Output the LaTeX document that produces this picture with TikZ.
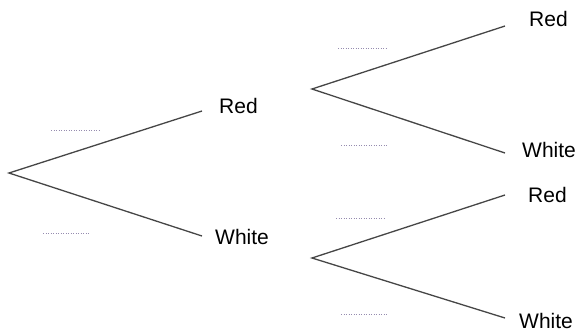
\documentclass[tikz,border=0pt]{standalone}
\usepackage{fontspec}
\setmainfont{Liberation Sans}
\definecolor{dotcol}{RGB}{150,140,175}
\definecolor{linecol}{RGB}{70,70,70}
\begin{document}
\begin{tikzpicture}[x=1pt,y=-1pt,
  branch/.style={draw=linecol,line width=1.3pt},
  lbl/.style={font=\fontsize{21}{24}\selectfont,inner sep=0pt,anchor=base west},
  blank/.style={draw=dotcol,line width=0.8pt,dash pattern=on 1.2pt off 1.3pt}]
\useasboundingbox (0,0) rectangle (578,333);
% nodes
\coordinate (root) at (9,173);
\coordinate (r1) at (202,111);
\coordinate (w1) at (202,236);
\coordinate (r1s) at (312,89);
\coordinate (w1s) at (312,258);
\coordinate (rr) at (505,26);
\coordinate (rw) at (505,153);
\coordinate (wr) at (505,195);
\coordinate (ww) at (505,318);
% branches
\draw[branch] (r1) -- (root) -- (w1);
\draw[branch] (rr) -- (r1s) -- (rw);
\draw[branch] (wr) -- (w1s) -- (ww);
% labels
\node[lbl] (tR) at (219,113) {Red};
\node[lbl] (tW) at (215,244) {White};
\node[lbl] (tRR) at (529,26) {Red};
\node[lbl] (tRW) at (522,157) {White};
\node[lbl] (tWR) at (528,202) {Red};
\node[lbl] (tWW) at (519,328.5) {White};
% blanks
\coordinate (d1a) at (51,130); \coordinate (d1b) at (99,130);
\coordinate (d2a) at (43,233); \coordinate (d2b) at (90,233);
\coordinate (d3a) at (338,48); \coordinate (d3b) at (387,48);
\coordinate (d4a) at (341,145); \coordinate (d4b) at (388,145);
\coordinate (d5a) at (336,218); \coordinate (d5b) at (385,218);
\coordinate (d6a) at (341,314); \coordinate (d6b) at (388,314);
\draw[blank] (d1a) -- (d1b);
\draw[blank] (d2a) -- (d2b);
\draw[blank] (d3a) -- (d3b);
\draw[blank] (d4a) -- (d4b);
\draw[blank] (d5a) -- (d5b);
\draw[blank] (d6a) -- (d6b);
\end{tikzpicture}
\end{document}
